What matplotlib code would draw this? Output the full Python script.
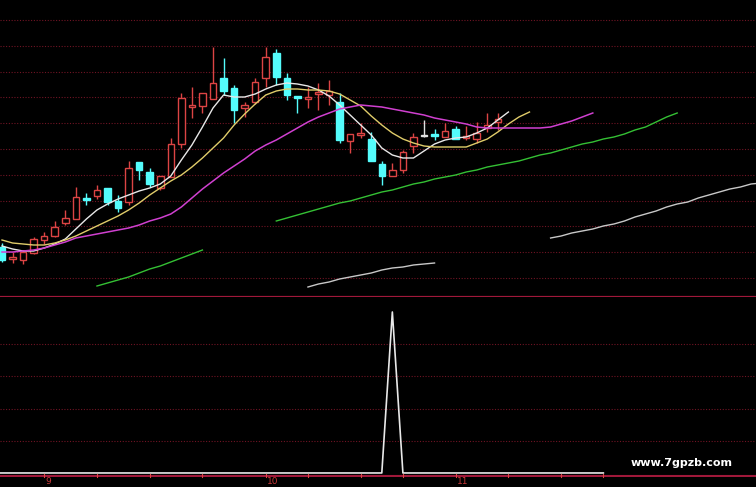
import numpy as np
import matplotlib
matplotlib.use("Agg")
import matplotlib.pyplot as plt

# --- K线数据 (每根K线: 开, 高, 低, 收) ---
opens = [10.53, 10.41, 10.40, 10.47, 10.60, 10.64, 10.77, 10.81, 11.02, 11.04,
         11.12, 10.99, 10.98, 11.38, 11.28, 11.12, 11.23, 11.56, 11.93, 11.94,
         12.01, 12.22, 12.12, 11.92, 11.98, 12.22, 12.47, 12.22, 12.04, 12.01,
         12.06, 12.05, 11.98, 11.59, 11.65, 11.61, 11.36, 11.24, 11.30, 11.54,
         11.64, 11.66, 11.63, 11.71, 11.62, 11.61, 11.72, 11.78]
highs = [10.57, 10.48, 10.50, 10.63, 10.68, 10.79, 10.90, 11.13, 11.07, 11.15,
         11.12, 11.05, 11.39, 11.38, 11.32, 11.24, 11.62, 12.07, 12.13, 12.07,
         12.53, 12.42, 12.15, 11.98, 12.22, 12.53, 12.51, 12.27, 12.04, 12.13,
         12.17, 12.20, 12.07, 11.66, 11.77, 11.68, 11.39, 11.37, 11.50, 11.67,
         11.80, 11.71, 11.77, 11.74, 11.74, 11.78, 11.87, 11.87]
lows = [10.38, 10.37, 10.36, 10.46, 10.56, 10.63, 10.75, 10.81, 10.95, 11.01,
        10.95, 10.88, 10.95, 11.20, 11.13, 11.10, 11.23, 11.52, 11.82, 11.87,
        12.01, 12.05, 11.77, 11.83, 11.96, 12.13, 12.15, 12.00, 11.87, 11.92,
        11.90, 11.95, 11.57, 11.47, 11.62, 11.39, 11.15, 11.24, 11.27, 11.47,
        11.63, 11.60, 11.63, 11.61, 11.60, 11.57, 11.68, 11.70]
closes = [10.40, 10.43, 10.48, 10.61, 10.64, 10.73, 10.82, 11.03, 11.00, 11.10,
          10.98, 10.92, 11.32, 11.30, 11.16, 11.24, 11.56, 12.02, 11.95, 12.07,
          12.17, 12.09, 11.90, 11.95, 12.18, 12.43, 12.23, 12.05, 12.02, 12.03,
          12.08, 12.09, 11.60, 11.66, 11.67, 11.39, 11.24, 11.30, 11.48, 11.63,
          11.64, 11.64, 11.69, 11.61, 11.64, 11.67, 11.75, 11.81]

# --- 均线 (从第0根K线开始) ---
ma_white = [10.54, 10.51, 10.49, 10.49, 10.52, 10.56, 10.61, 10.71, 10.81, 10.90,
            10.96, 11.01, 11.05, 11.09, 11.12, 11.16, 11.24, 11.40, 11.55, 11.73,
            11.92, 12.05, 12.03, 12.03, 12.06, 12.11, 12.15, 12.17, 12.16, 12.14,
            12.10, 12.04, 11.95, 11.85, 11.75, 11.65, 11.52, 11.45, 11.42, 11.42,
            11.49, 11.56, 11.60, 11.62, 11.63, 11.67, 11.72, 11.80, 11.88]
ma_yellow = [10.60, 10.57, 10.56, 10.55, 10.55, 10.57, 10.60, 10.64, 10.69, 10.74,
             10.79, 10.84, 10.90, 10.97, 11.05, 11.12, 11.19, 11.25, 11.33, 11.42,
             11.52, 11.62, 11.75, 11.86, 11.96, 12.05, 12.09, 12.11, 12.11, 12.10,
             12.10, 12.09, 12.06, 12.00, 11.94, 11.84, 11.75, 11.67, 11.61, 11.57,
             11.54, 11.53, 11.53, 11.53, 11.53, 11.57, 11.61, 11.68, 11.76, 11.83,
             11.88]
ma_magenta = [10.48, 10.48, 10.49, 10.50, 10.52, 10.55, 10.58, 10.62, 10.64, 10.66,
              10.68, 10.70, 10.72, 10.75, 10.79, 10.82, 10.86, 10.93, 11.02, 11.11,
              11.19, 11.27, 11.34, 11.41, 11.49, 11.55, 11.60, 11.66, 11.72, 11.78,
              11.83, 11.87, 11.91, 11.93, 11.95, 11.94, 11.93, 11.91, 11.89, 11.87,
              11.85, 11.82, 11.80, 11.78, 11.76, 11.73, 11.72, 11.72, 11.72, 11.72,
              11.72, 11.72, 11.73, 11.76, 11.79, 11.83, 11.87]

# --- 平移线段 (起始K线序号, 数值) ---
green1_start = 9
green1 = [10.14, 10.17, 10.20, 10.23, 10.27, 10.31, 10.34, 10.38, 10.42, 10.46, 10.50]
green2_start = 26
green2 = [10.79, 10.82, 10.85, 10.88, 10.91, 10.94, 10.97, 10.99, 11.02, 11.05,
          11.08, 11.10, 11.13, 11.16, 11.18, 11.21, 11.23, 11.25, 11.28, 11.30,
          11.33, 11.35, 11.37, 11.39, 11.42, 11.45, 11.47, 11.50, 11.53, 11.56,
          11.58, 11.61, 11.63, 11.66, 11.70, 11.73, 11.78, 11.83, 11.87]
gray1_start = 29
gray1 = [10.13, 10.16, 10.18, 10.21, 10.23, 10.25, 10.27, 10.30, 10.32, 10.33,
         10.35, 10.36, 10.37]
gray2_start = 52
gray2 = [10.62, 10.64, 10.67, 10.69, 10.71, 10.74, 10.76, 10.79, 10.83, 10.86,
         10.89, 10.93, 10.96, 10.98, 11.02, 11.05, 11.08, 11.11, 11.13, 11.16, 11.17]

# --- 副图指标: 只有一根K线出现信号 ---
signal_bars = list(range(-1, 58))
signal_hit = 37
signal_values = [100 if b == signal_hit else 0 for b in signal_bars]

# --- 时间轴 ---
tick_bars = [4, 9, 14, 19, 25, 29, 34, 38, 43, 48, 53, 57]
month_bars = [4, 25, 43]
month_labels = ["9", "10", "11"]

RED = "#dc4444"
CYAN = "#54fcfc"
GRID = "#701424"
SEP = "#a0183a"

W, H = 756, 487
fig = plt.figure(figsize=(W / 100, H / 100), dpi=100, facecolor="black")

# 主图 0..297px, 副图 297..477px
ax = fig.add_axes([0, 1 - 297 / H, 1, 297 / H], facecolor="black")
ax2 = fig.add_axes([0, 1 - 477 / H, 1, 180 / H], facecolor="black")

xlim = (-0.19, 71.47)
for a in (ax, ax2):
    a.set_xlim(*xlim)
    a.set_xticks([])
    a.set_yticks([])
    for s in a.spines.values():
        s.set_visible(False)

ax.set_ylim(10.03, 13.00)
ax2.set_ylim(-2.5, 109.3)

# 网格虚线
for g in np.linspace(10.22, 12.80, 11):
    ax.axhline(g, color=GRID, lw=0.8, ls=(0, (1, 1.5)), zorder=0)
for g in [20, 40, 60, 80]:
    ax2.axhline(g, color=GRID, lw=0.8, ls=(0, (1, 1.5)), zorder=0)

# K线
n = len(opens)
x = np.arange(n)
o = np.array(opens)
c = np.array(closes)
colors = np.where(c > o, RED, np.where(c < o, CYAN, "#e0e0e0"))
ax.vlines(x, lows, highs, colors=colors, lw=1.0, zorder=2)
bottoms = np.minimum(o, c)
heights = np.maximum(np.abs(c - o), 0.012)
faces = np.where(c > o, "black", colors)
ax.bar(x, heights, bottom=bottoms, width=0.62, color=faces,
       edgecolor=colors, linewidth=1.0, zorder=3)

# 均线
ax.plot(np.arange(len(ma_white)), ma_white, color="#e8e8e8", lw=1.0, zorder=4)
ax.plot(np.arange(len(ma_yellow)), ma_yellow, color="#e0cc6a", lw=1.0, zorder=4)
ax.plot(np.arange(len(ma_magenta)), ma_magenta, color="#d040d0", lw=1.1, zorder=4)
for start, vals, col in [(green1_start, green1, "#34c034"),
                         (green2_start, green2, "#34c034"),
                         (gray1_start, gray1, "#c8c8c8"),
                         (gray2_start, gray2, "#c8c8c8")]:
    ax.plot(np.arange(start, start + len(vals)), vals, color=col, lw=1.0, zorder=4)

# 分隔线
ax.axhline(10.03, color=SEP, lw=1.6, zorder=5)

# 副图
ax2.plot(signal_bars, signal_values, color="#e8e8e8", lw=1.2, zorder=3)
ax2.axhline(-2.0, color=SEP, lw=1.5, zorder=4)

# 底部时间刻度
for b in tick_bars:
    ax2.plot([b, b], [-2.5, -0.8], color=RED, lw=0.8, zorder=5, clip_on=False)
for b, lab in zip(month_bars, month_labels):
    fig.text((b - xlim[0]) / (xlim[1] - xlim[0]) + 0.002, 1 - 481.5 / H, lab,
             color="#c83838", fontsize=6.5, ha="left", va="center")

# 水印
fig.text(682 / W, 1 - 463 / H, "www.7gpzb.com", color="white", fontsize=8,
         fontweight="bold", ha="center", va="center",
         bbox=dict(facecolor="black", edgecolor="none", pad=2))

fig.savefig("out.png", dpi=100, facecolor="black")
